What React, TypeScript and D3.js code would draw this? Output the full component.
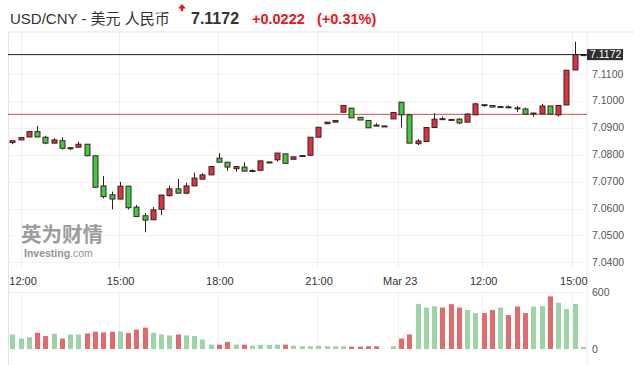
import React from "react";
import * as d3 from "d3";

// 15-min candles
const opens = [
  7.0845, 7.0855, 7.0866, 7.0886, 7.0865, 7.0843, 7.0852, 7.0823, 7.0828, 7.0839,
  7.0796, 7.0684, 7.0651, 7.0635, 7.0683, 7.0605, 7.0573, 7.0558, 7.0597, 7.0648,
  7.0673, 7.0657, 7.0684, 7.0709, 7.0725, 7.0787, 7.0772, 7.0748, 7.0754, 7.074,
  7.0742, 7.0772, 7.0781, 7.0803, 7.0783, 7.0796, 7.0798, 7.0865, 7.0915, 7.0921,
  7.0958, 7.0973, 7.0939, 7.0927, 7.091, 7.0907, 7.0933, 7.0995, 7.0948, 7.0841,
  7.0849, 7.0901, 7.0934, 7.0931, 7.0932, 7.0921, 7.0948, 7.0986, 7.0983, 7.0978,
  7.0978, 7.0974, 7.097, 7.0954, 7.0952, 7.0981, 7.0948, 7.0985, 7.1115, 7.1172,
];
const highs = [
  7.0852, 7.0865, 7.0887, 7.0907, 7.087, 7.0861, 7.0865, 7.0826, 7.0849, 7.084,
  7.0797, 7.0721, 7.0663, 7.0699, 7.0684, 7.0613, 7.0583, 7.0605, 7.0651, 7.0684,
  7.071, 7.0696, 7.0733, 7.0731, 7.0757, 7.0806, 7.0773, 7.0756, 7.0771, 7.0746,
  7.0778, 7.0773, 7.0807, 7.0804, 7.0792, 7.0797, 7.0865, 7.0902, 7.0921, 7.0927,
  7.0985, 7.0974, 7.0939, 7.0927, 7.0917, 7.0907, 7.0957, 7.0996, 7.0952, 7.0858,
  7.0901, 7.0954, 7.0942, 7.0931, 7.0936, 7.0954, 7.0993, 7.0986, 7.0983, 7.0981,
  7.0983, 7.0981, 7.0975, 7.0955, 7.0989, 7.0981, 7.0983, 7.1114, 7.122, 7.1172,
];
const lows = [
  7.0839, 7.0855, 7.0865, 7.0865, 7.0839, 7.0842, 7.0819, 7.0817, 7.0827, 7.0795,
  7.0678, 7.0638, 7.0597, 7.0634, 7.0597, 7.0569, 7.0512, 7.0557, 7.0576, 7.0644,
  7.0656, 7.0653, 7.0683, 7.0708, 7.0724, 7.0771, 7.074, 7.0737, 7.0738, 7.074,
  7.0741, 7.0772, 7.0774, 7.0767, 7.0783, 7.0796, 7.0798, 7.0865, 7.0915, 7.0921,
  7.0958, 7.0937, 7.0929, 7.09, 7.0909, 7.0907, 7.0933, 7.0901, 7.0843, 7.0836,
  7.0849, 7.0901, 7.0933, 7.093, 7.0913, 7.0921, 7.0948, 7.0979, 7.0977, 7.0978,
  7.0977, 7.0958, 7.0951, 7.0941, 7.0952, 7.0951, 7.0942, 7.0985, 7.1115, 7.1172,
];
const closes = [
  7.0852, 7.0864, 7.0886, 7.0866, 7.0843, 7.0855, 7.0824, 7.0826, 7.0839, 7.0796,
  7.0679, 7.0644, 7.0635, 7.0683, 7.0603, 7.057, 7.0557, 7.0595, 7.065, 7.0673,
  7.0657, 7.0684, 7.0713, 7.0725, 7.0756, 7.0772, 7.0754, 7.0756, 7.0739, 7.0741,
  7.0777, 7.0773, 7.0806, 7.0768, 7.0792, 7.0797, 7.0865, 7.0902, 7.0921, 7.0927,
  7.0983, 7.0937, 7.0929, 7.09, 7.0909, 7.0907, 7.0957, 7.0948, 7.0843, 7.0851,
  7.0901, 7.0932, 7.0933, 7.093, 7.0918, 7.0951, 7.0989, 7.0985, 7.0977, 7.0979,
  7.0977, 7.0973, 7.0951, 7.0955, 7.0981, 7.0951, 7.0983, 7.1114, 7.1172, 7.1172,
];
const volumes = [
  153, 110, 125, 171, 136, 161, 110, 153, 153, 164,
  182, 175, 182, 185, 168, 204, 225, 171, 153, 143,
  153, 143, 136, 100, 46, 46, 75, 46, 46, 35,
  43, 43, 46, 46, 35, 29, 29, 35, 29, 29,
  29, 25, 25, 29, 29, 0, 29, 110, 153, 475,
  436, 450, 436, 472, 436, 410, 378, 378, 410, 436,
  357, 447, 378, 447, 453, 554, 486, 421, 475, 21,
];

const priceTicks = [7.04, 7.05, 7.06, 7.07, 7.08, 7.09, 7.1, 7.11];
const volumeTicks = [0, 600];
const timeTickIndex = [1.3, 13.1, 25.1, 37.1, 46.9, 57, 67.9];
const timeTickLabels = ["12:00", "15:00", "18:00", "21:00", "Mar 23", "12:00", "15:00"];

const lastPrice = 7.1172;
const prevClose = 7.095;
const change = "+0.0222";
const changePct = "(+0.31%)";

const W = 634;
const H = 365;
const left = 8;
const plotRight = 587;
const font = "'Liberation Sans', Arial, 'Noto Sans CJK SC', sans-serif";

export default function App() {
  const x = d3.scaleLinear().domain([0, opens.length - 1]).range([12.3, 582.9]);
  const y = d3.scaleLinear().domain([7.04, 7.11]).range([262.3, 74]);
  const yv = d3.scaleLinear().domain([0, 600]).range([349, 292]);

  const candles = d3.range(opens.length).map((i) => ({
    i,
    o: opens[i],
    h: highs[i],
    l: lows[i],
    c: closes[i],
    v: volumes[i],
    up: closes[i] >= opens[i],
  }));

  const bodyW = 5;
  const volW = 5;

  return (
    <svg
      width={W}
      height={H}
      style={{ position: "absolute", left: 0, top: 0, background: "#fff" }}
      fontFamily={font}
    >
      {/* header */}
      <text x={10} y={24} fontSize={15} fill="#333">
        USD/CNY - 美元 人民币
      </text>
      <path d="M182,4 L186,8.5 L183.2,8.5 L183.2,11 L180.8,11 L180.8,8.5 L178,8.5 Z" fill="#e8161c" />
      <text x={191} y={24} fontSize={16} fontWeight="bold" fill="#333">
        {lastPrice.toFixed(4)}
      </text>
      <text x={252} y={24} fontSize={14.5} fontWeight="bold" fill="#e8161c">
        {change}
      </text>
      <text x={317} y={24} fontSize={14.5} fontWeight="bold" fill="#e8161c">
        {changePct}
      </text>

      {/* frame */}
      <line x1={left} x2={W} y1={32} y2={32} stroke="#e3e3e3" />
      <line x1={left + 0.5} x2={left + 0.5} y1={32} y2={H} stroke="#e3e3e3" />
      <line x1={plotRight} x2={plotRight} y1={32} y2={H} stroke="#e8e8e8" />

      {/* grid */}
      {priceTicks.map((t) => (
        <line key={"g" + t} x1={left} x2={plotRight} y1={Math.round(y(t)) + 0.5} y2={Math.round(y(t)) + 0.5} stroke="#f2f2f2" />
      ))}
      {timeTickIndex.map((t, k) => (
        <line key={"v" + k} x1={Math.round(x(t)) - 1.5} x2={Math.round(x(t)) - 1.5} y1={32} y2={268} stroke="#f0f0f0" />
      ))}
      {timeTickIndex.map((t, k) => (
        <line key={"vv" + k} x1={Math.round(x(t)) - 1.5} x2={Math.round(x(t)) - 1.5} y1={292} y2={350} stroke="#f0f0f0" />
      ))}
      <line x1={left} x2={plotRight} y1={292.5} y2={292.5} stroke="#f0f0f0" />

      {/* watermark */}
      <g opacity={0.8}>
        <text x={21} y={242} fontSize={20.5} fontWeight="bold" fill="#858585" fontFamily="'Noto Sans CJK SC', sans-serif">
          英为财情
        </text>
        <text x={24} y={257} fontSize={10.5} fontWeight="bold" fill="#777">
          Investing<tspan fontWeight="normal">.com</tspan>
        </text>
      </g>

      {/* previous close */}
      <line x1={left} x2={plotRight} y1={y(prevClose)} y2={y(prevClose)} stroke="#cf4a55" strokeWidth={1} />

      {/* candles */}
      {candles.map((d) => {
        const cx = Math.round(x(d.i)) + 0.5;
        const top = y(Math.max(d.o, d.c));
        const bot = y(Math.min(d.o, d.c));
        const h = Math.max(1, bot - top);
        return (
          <g key={d.i}>
            <line x1={cx} x2={cx} y1={y(d.h)} y2={y(d.l)} stroke="#222" strokeWidth={1} />
            <rect
              x={cx - bodyW / 2}
              y={top}
              width={bodyW}
              height={h}
              fill={d.up ? "#dd3340" : "#3fcb3f"}
              stroke="#3a2222"
              strokeWidth={1}
            />
          </g>
        );
      })}

      {/* last price line */}
      <line x1={left} x2={plotRight} y1={y(lastPrice)} y2={y(lastPrice)} stroke="#222" strokeWidth={1} />

      {/* price axis */}
      {priceTicks.map((t) => (
        <text key={"p" + t} x={592} y={y(t) + 3.5} fontSize={10.5} fill="#555">
          {t.toFixed(4)}
        </text>
      ))}
      <rect x={587} y={y(lastPrice) - 5.5} width={36} height={11} fill="#2e2e2e" />
      <text x={590} y={y(lastPrice) + 3.8} fontSize={10.5} fill="#fff">
        {lastPrice.toFixed(4)}
      </text>

      {/* time axis */}
      {timeTickIndex.map((t, k) => (
        <text key={"t" + k} x={x(t)} y={285} fontSize={11} fill="#333" textAnchor="middle">
          {timeTickLabels[k]}
        </text>
      ))}

      {/* volume */}
      {candles.map((d) =>
        d.v > 0 ? (
          <rect
            key={"vol" + d.i}
            x={Math.round(x(d.i)) + 0.5 - volW / 2}
            y={yv(d.v)}
            width={volW}
            height={yv(0) - yv(d.v)}
            fill={d.up ? "#9ed3a8" : "#e06b6d"}
          />
        ) : null
      )}
      {volumeTicks.map((t) => (
        <text key={"vt" + t} x={592} y={yv(t) + 3.5} fontSize={10.5} fill="#555">
          {t}
        </text>
      ))}
    </svg>
  );
}
